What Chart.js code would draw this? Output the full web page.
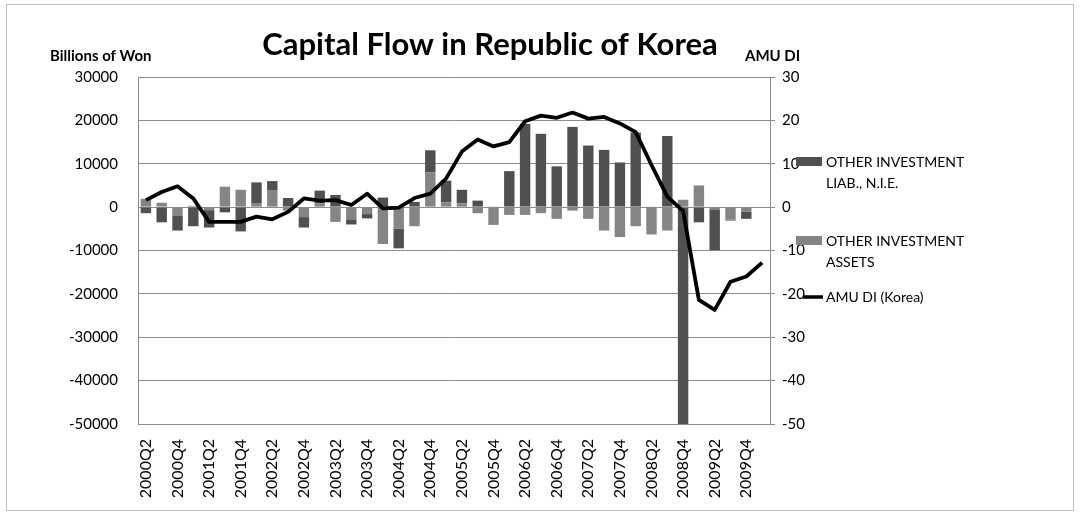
<!DOCTYPE html>
<html>
<head>
<meta charset="utf-8">
<title>Capital Flow in Republic of Korea</title>
<script src="https://cdn.jsdelivr.net/npm/chart.js@4.4.0/dist/chart.umd.min.js"></script>
<style>
  html, body { margin: 0; padding: 0; background: #fff; }
  canvas { display: block; }
</style>
</head>
<body>
<canvas id="flowChart" width="1080" height="516"></canvas>
<script>
// ======================================
// DATA
// ======================================
const quarters = [
  '2000Q2', '2000Q3', '2000Q4', '2001Q1', '2001Q2', '2001Q3', '2001Q4', '2002Q1',
  '2002Q2', '2002Q3', '2002Q4', '2003Q1', '2003Q2', '2003Q3', '2003Q4', '2004Q1',
  '2004Q2', '2004Q3', '2004Q4', '2005Q1', '2005Q2', '2005Q3', '2005Q4', '2006Q1',
  '2006Q2', '2006Q3', '2006Q4', '2007Q1', '2007Q2', '2007Q3', '2007Q4', '2008Q1',
  '2008Q2', '2008Q3', '2008Q4', '2009Q1', '2009Q2', '2009Q3', '2009Q4', '2010Q1'
];
// billions of won
const liabilities = [
  -1400, -3500, -3500, -4400, -4000, -1200, -5600, 4900,
  2200, 2100, -2400, 2900, 2800, -1200, -1000, 2200,
  -4500, 1200, 5100, 5000, 3100, 1500, 150, 8300,
  19200, 16900, 9400, 18500, 14200, 13200, 10300, 17200,
  100, 16400, -50000, -3500, -9400, -200, -1600, null
];
const assets = [
  1900, 1000, -1900, 300, -700, 4700, 4000, 800,
  3800, -800, -2300, 900, -3400, -2800, -1600, -8500,
  -5000, -4400, 8000, 1100, 900, -1400, -4100, -1800,
  -1800, -1400, -2700, -800, -2700, -5400, -6900, -4400,
  -6300, -5400, 1700, 5000, -500, -2900, -1100, null
];
const amuDi = [
  1.6, 3.5, 4.8, 2.0, -3.4, -3.4, -3.4, -2.2,
  -2.8, -1.1, 2.0, 1.5, 1.6, 0.5, 3.1, -0.3,
  -0.1, 2.1, 3.1, 6.6, 12.8, 15.6, 14.0, 15.0,
  19.8, 21.1, 20.6, 21.8, 20.4, 20.8, 19.3, 17.3,
  9.7, 2.4, -0.9, -21.4, -23.7, -17.2, -16.0, -12.8
];
const wonTicks = [30000, 20000, 10000, 0, -10000, -20000, -30000, -40000, -50000];
const diTicks = [30, 20, 10, 0, -10, -20, -30, -40, -50];

// ======================================
// STYLE
// ======================================
const colorLiab = '#505050';
const colorAssets = '#858585';
const colorGrid = '#8c8c8c';
const fontFamily = 'Lato, "Open Sans", sans-serif';

// texts drawn around the plot: title, axis titles, legend, outer border
const decorPlugin = {
  id: 'decor',
  afterDraw(chart) {
    const ctx = chart.ctx;
    ctx.save();
    ctx.strokeStyle = '#bfbfbf'; ctx.lineWidth = 1;
    ctx.strokeRect(6.5, 4.5, 1067, 506);

    ctx.fillStyle = '#000';
    ctx.textBaseline = 'middle';
    ctx.textAlign = 'center';
    ctx.font = 'bold 31px ' + fontFamily;
    ctx.fillText('Capital Flow in Republic of Korea', 490, 45);

    ctx.font = 'bold 15px ' + fontFamily;
    ctx.textAlign = 'left';
    ctx.fillText('Billions of Won', 50, 56);
    ctx.fillText('AMU DI', 745, 56);

    // legend
    ctx.font = '14px ' + fontFamily;
    ctx.fillStyle = colorLiab; ctx.fillRect(796, 157, 26, 9);
    ctx.fillStyle = colorAssets; ctx.fillRect(796, 236, 26, 9);
    ctx.fillStyle = '#000';
    ctx.fillText('OTHER INVESTMENT', 826, 162);
    ctx.fillText('LIAB., N.I.E.', 826, 183);
    ctx.fillText('OTHER INVESTMENT', 826, 241);
    ctx.fillText('ASSETS', 826, 262);
    ctx.strokeStyle = '#000'; ctx.lineWidth = 3.5;
    ctx.beginPath(); ctx.moveTo(803, 297); ctx.lineTo(823, 297); ctx.stroke();
    ctx.fillText('AMU DI (Korea)', 826, 297);
    ctx.restore();
  }
};

document.addEventListener('DOMContentLoaded', function() {
  Chart.defaults.font.family = fontFamily;
  Chart.defaults.color = '#000';
  const plainTick = function(v) { return String(v); };
  const ctx = document.getElementById('flowChart').getContext('2d');
  new Chart(ctx, {
    type: 'bar',
    data: {
      labels: quarters,
      datasets: [
        { label: 'OTHER INVESTMENT ASSETS', data: assets, backgroundColor: colorAssets,
          yAxisID: 'y', stack: 'flow', order: 1 },
        { label: 'OTHER INVESTMENT LIAB., N.I.E.', data: liabilities, backgroundColor: colorLiab,
          yAxisID: 'y', stack: 'flow', order: 1 },
        { type: 'line', label: 'AMU DI (Korea)', data: amuDi, borderColor: '#000', borderWidth: 3.8,
          pointRadius: 0, tension: 0, yAxisID: 'y1', order: 0, borderJoinStyle: 'round' }
      ]
    },
    options: {
      responsive: false,
      animation: false,
      layout: { padding: { top: 77, right: 270, bottom: 0, left: 0 } },
      categoryPercentage: 0.66,
      barPercentage: 1,
      plugins: { legend: { display: false }, title: { display: false }, tooltip: { enabled: false } },
      scales: {
        x: {
          stacked: true,
          grid: { display: false },
          border: { display: true, color: colorGrid },
          ticks: {
            autoSkip: false, maxRotation: 90, minRotation: 90, padding: 7,
            font: { size: 16 },
            callback: function(v, i) { return i % 2 === 0 ? quarters[i] : ''; }
          },
          afterFit: function(scale) { scale.height = 92; }
        },
        y: {
          stacked: true, position: 'left',
          min: -50000, max: 30000,
          afterBuildTicks: function(scale) { scale.ticks = wonTicks.map(v => ({ value: v })); },
          grid: { color: colorGrid, drawTicks: false },
          border: { color: colorGrid },
          ticks: { padding: 20, font: { size: 15 }, callback: plainTick },
          afterFit: function(scale) { scale.width = 138; }
        },
        y1: {
          position: 'right',
          min: -50, max: 30,
          afterBuildTicks: function(scale) { scale.ticks = diTicks.map(v => ({ value: v })); },
          grid: { drawOnChartArea: false, color: colorGrid, tickLength: 5 },
          border: { color: colorGrid },
          ticks: { padding: 7, font: { size: 15 }, callback: plainTick },
          afterFit: function(scale) { scale.width = 40; }
        }
      }
    },
    plugins: [decorPlugin]
  });
});
</script>
</body>
</html>
